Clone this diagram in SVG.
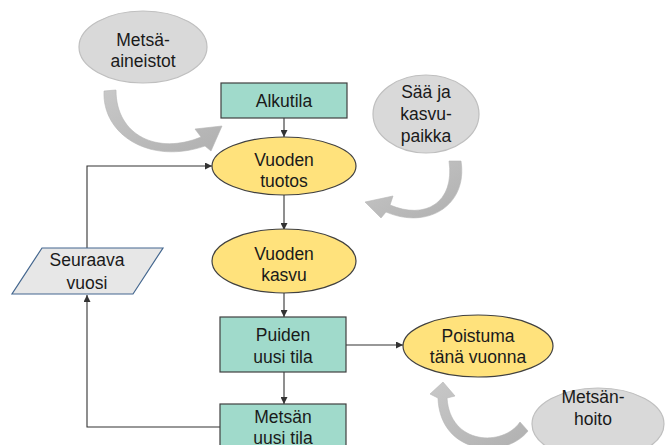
<svg xmlns="http://www.w3.org/2000/svg" width="666" height="445" viewBox="0 0 666 445">
<defs>
<style>
.t{font-family:"Liberation Sans",Arial,sans-serif;font-size:17.5px;fill:#1a1a1a;text-anchor:middle}
.box{fill:#A0DACB;stroke:#404040;stroke-width:1.2}
.yel{fill:#FFE27C;stroke:#404040;stroke-width:1.2}
.gry{fill:#D9D9D9;stroke:#BFBFBF;stroke-width:1.2}
.con{fill:none;stroke:#333333;stroke-width:1.1}
.carrow{fill:url(#g);stroke:#B5B5B5;stroke-width:0.6}
</style>
<linearGradient id="g" x1="0" y1="0" x2="1" y2="1">
<stop offset="0" stop-color="#C8C8C8"/>
<stop offset="1" stop-color="#B0B0B0"/>
</linearGradient>
<marker id="ah" viewBox="0 0 10 10" refX="10" refY="5" markerWidth="7" markerHeight="7" markerUnits="userSpaceOnUse" orient="auto">
<path d="M0,0 L10,5 L0,10 Z" fill="#333333"/>
</marker>
</defs>

<g id="connectors">
<line class="con" x1="284" y1="118" x2="284" y2="137" marker-end="url(#ah)"/>
<line class="con" x1="284" y1="195" x2="284" y2="230" marker-end="url(#ah)"/>
<line class="con" x1="284" y1="293" x2="284" y2="317" marker-end="url(#ah)"/>
<line class="con" x1="284" y1="372" x2="284" y2="404" marker-end="url(#ah)"/>
<line class="con" x1="346" y1="345" x2="403" y2="345" marker-end="url(#ah)"/>
<polyline class="con" points="87,248 87,166 212,166" marker-end="url(#ah)"/>
<polyline class="con" points="220,427 87,427 87,295" marker-end="url(#ah)"/>
</g>

<g id="curved-arrows">
<path class="carrow" d="M104,91 C102,135 150,165 205,146 L211,151 L222,126 L195,129 L201,137 C158,155 116,136 116,90 Z"/>
<path class="carrow" d="M461,161 C468,205 428,230 386,212 L381,218 L365,202 L393,196 L390,205 C425,220 455,203 449,161 Z"/>
<path class="carrow" d="M528,431 C505,460 440,455 438,398 L430,394 L443,382 L455,396 L447,398 C450,445 503,447 520,422 Z"/>
</g>

<g id="metsa-aineistot">
<ellipse class="gry" cx="143" cy="47" rx="64" ry="36"/>
<text class="t" x="143" y="46">Metsä-</text>
<text class="t" x="143" y="67">aineistot</text>
</g>

<g id="alkutila">
<rect class="box" x="221" y="83" width="126" height="35"/>
<text class="t" x="284" y="107">Alkutila</text>
</g>

<g id="saa-ja-kasvupaikka">
<ellipse class="gry" cx="426" cy="114" rx="53" ry="39"/>
<text class="t" x="426" y="98">Sää ja</text>
<text class="t" x="426" y="120">kasvu-</text>
<text class="t" x="426" y="142">paikka</text>
</g>

<g id="vuoden-tuotos">
<ellipse class="yel" cx="284" cy="166" rx="72" ry="29"/>
<text class="t" x="284" y="166">Vuoden</text>
<text class="t" x="284" y="187">tuotos</text>
</g>

<g id="vuoden-kasvu">
<ellipse class="yel" cx="284" cy="261" rx="72" ry="32"/>
<text class="t" x="284" y="260">Vuoden</text>
<text class="t" x="284" y="281">kasvu</text>
</g>

<g id="seuraava-vuosi">
<polygon points="42,248 163,248 133,294 12,294" fill="#E7E7E7" stroke="#44678F" stroke-width="1.2"/>
<text class="t" x="87" y="266">Seuraava</text>
<text class="t" x="87" y="289">vuosi</text>
</g>

<g id="puiden-uusi-tila">
<rect class="box" x="220" y="317" width="126" height="55"/>
<text class="t" x="283" y="341">Puiden</text>
<text class="t" x="283" y="363">uusi tila</text>
</g>

<g id="metsan-uusi-tila">
<rect class="box" x="220" y="404" width="126" height="56"/>
<text class="t" x="283" y="423">Metsän</text>
<text class="t" x="283" y="444">uusi tila</text>
</g>

<g id="poistuma">
<ellipse class="yel" cx="478" cy="346" rx="75" ry="31"/>
<text class="t" x="478" y="342">Poistuma</text>
<text class="t" x="478" y="363">tänä vuonna</text>
</g>

<g id="metsanhoito">
<ellipse class="gry" cx="598" cy="424" rx="66" ry="36"/>
<text class="t" x="593" y="403">Metsän-</text>
<text class="t" x="593" y="425">hoito</text>
</g>
</svg>
